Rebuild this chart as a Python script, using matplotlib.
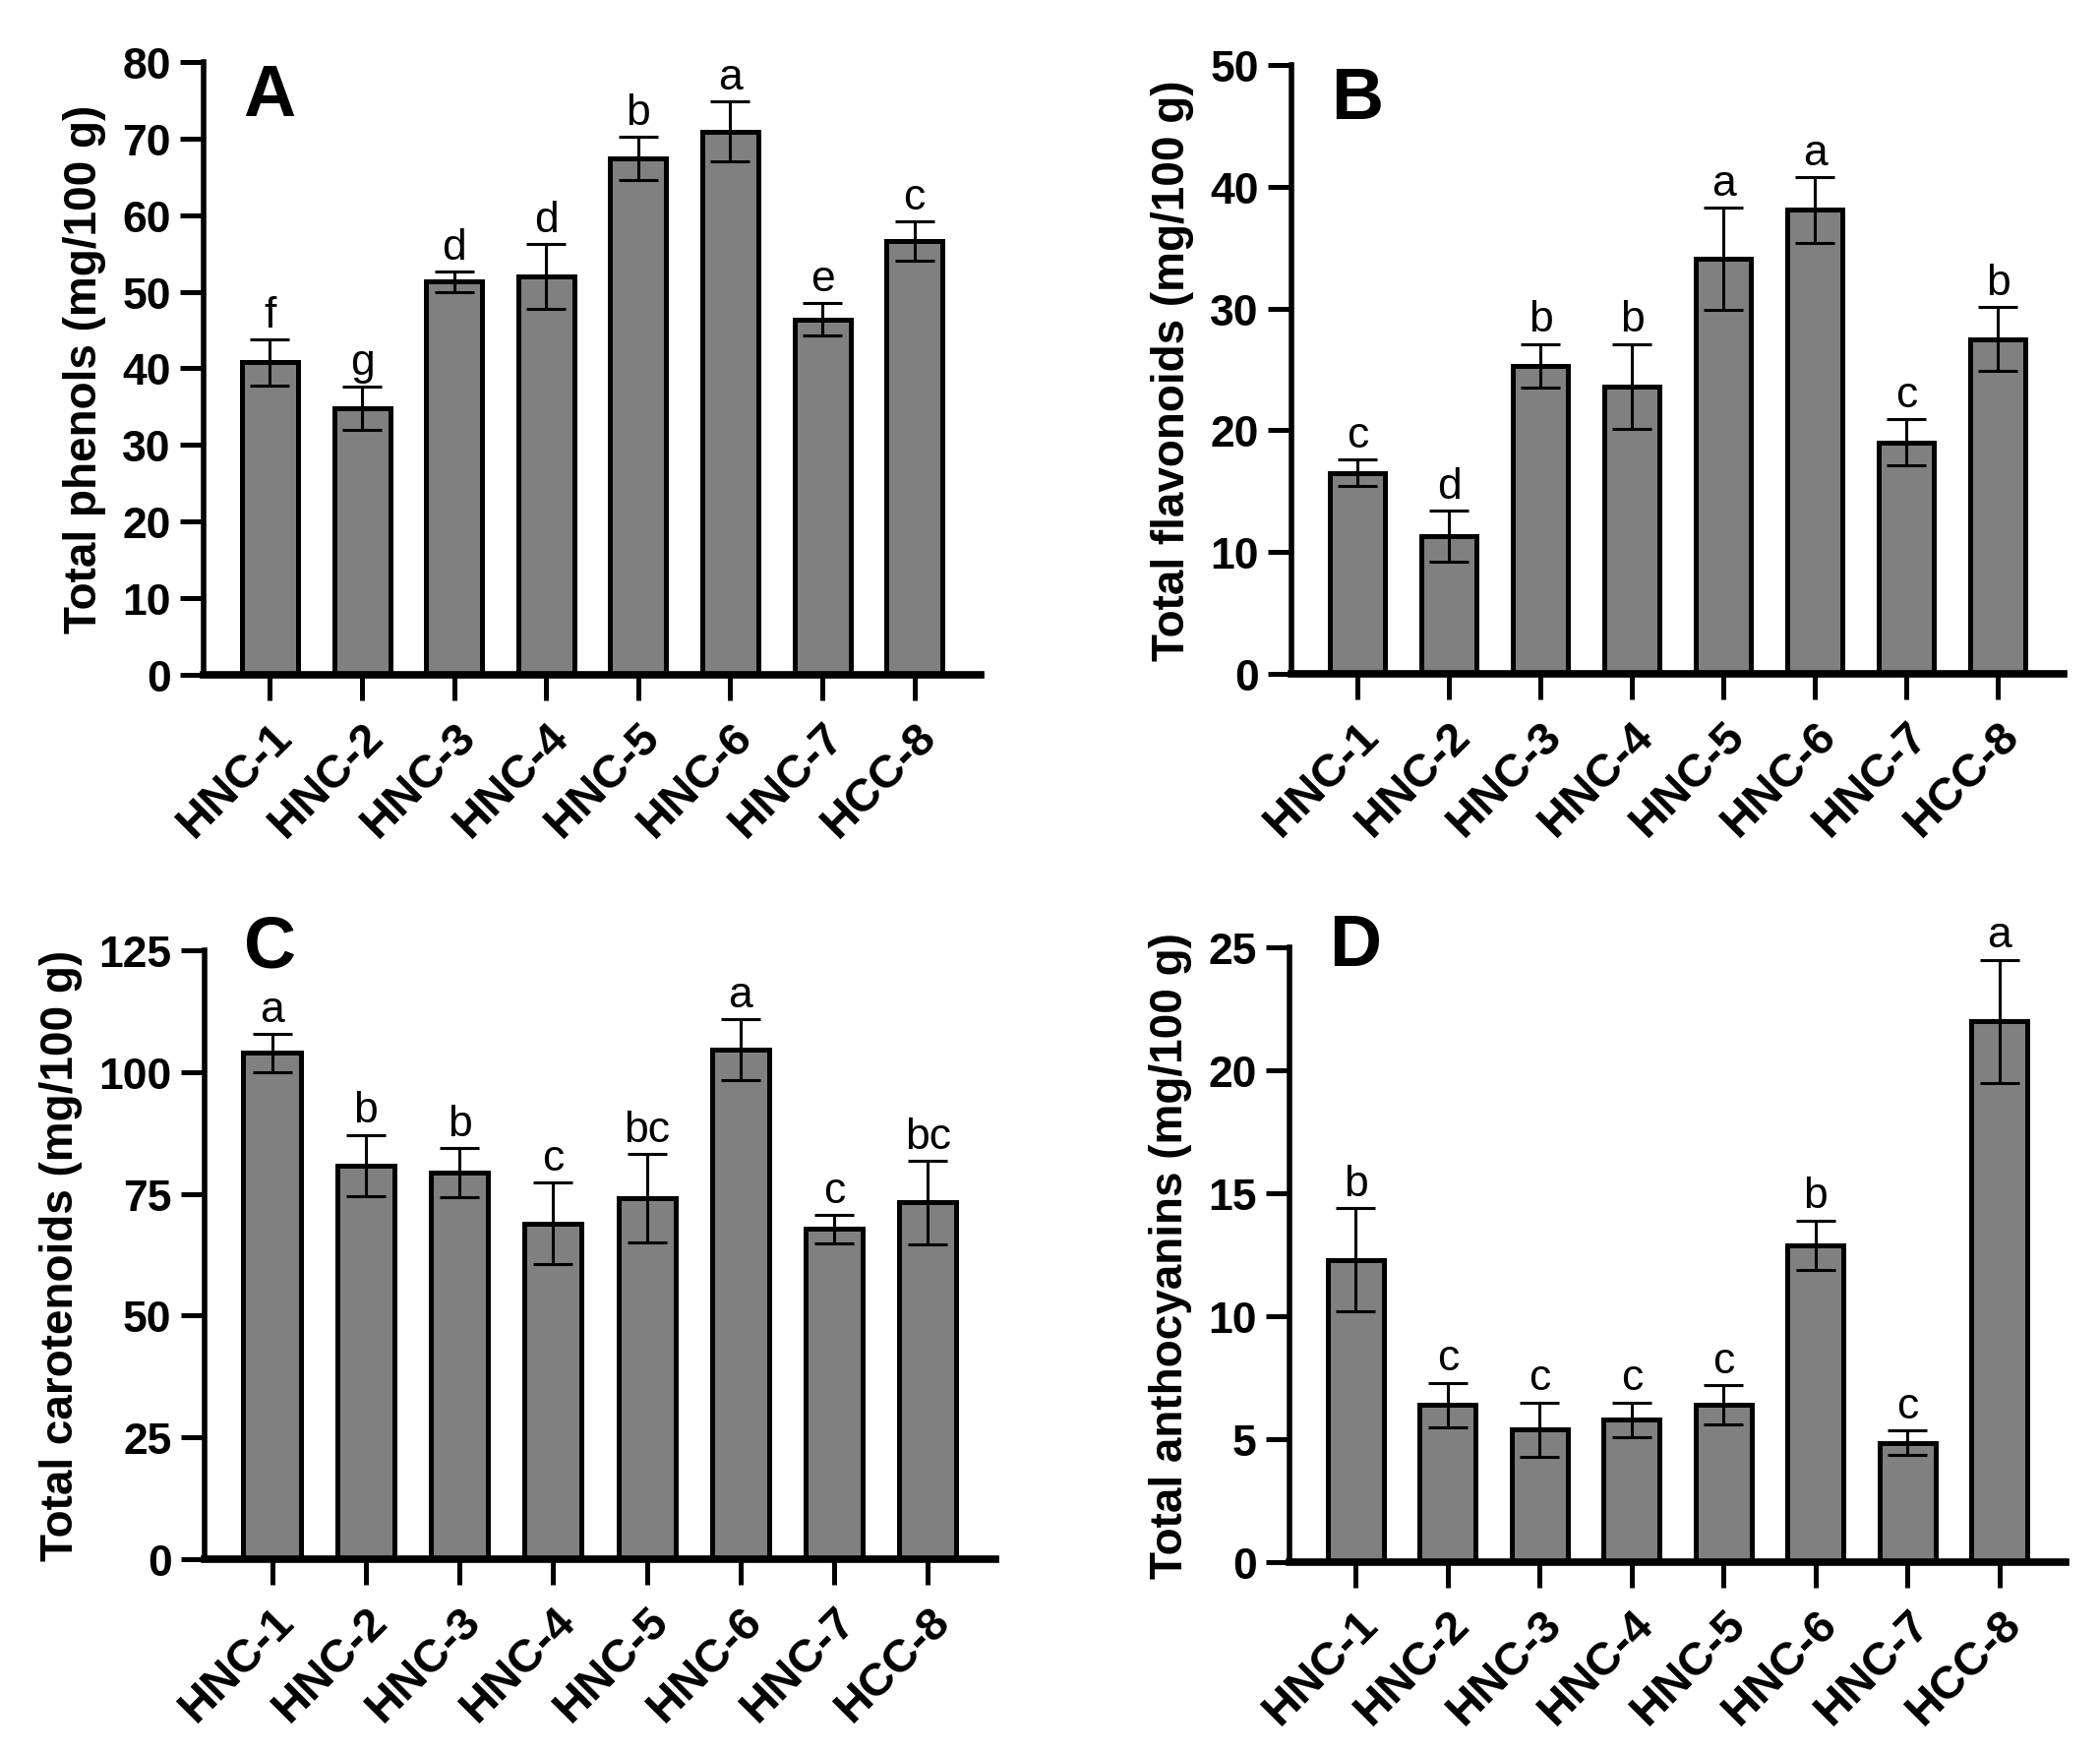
import matplotlib
matplotlib.use("Agg")
import matplotlib.pyplot as plt
import matplotlib.transforms as mtransforms
import numpy as np

plt.rcParams['font.family'] = ['Liberation Sans', 'DejaVu Sans']

categories = ["HNC-1", "HNC-2", "HNC-3", "HNC-4", "HNC-5", "HNC-6", "HNC-7", "HCC-8"]

phenols = [40.8, 34.8, 51.3, 52.0, 67.4, 70.9, 46.4, 56.6]
phenols_err = [3.0, 2.8, 1.3, 4.2, 2.8, 3.9, 2.1, 2.6]
phenols_letters = ["f", "g", "d", "d", "b", "a", "e", "c"]

flavonoids = [16.5, 11.3, 25.3, 23.6, 34.1, 38.1, 19.0, 27.5]
flavonoids_err = [1.1, 2.1, 1.8, 3.5, 4.2, 2.7, 1.9, 2.6]
flavonoids_letters = ["c", "d", "b", "b", "a", "a", "c", "b"]

carotenoids = [103.9, 80.8, 79.3, 68.9, 74.1, 104.6, 67.8, 73.2]
carotenoids_err = [3.9, 6.3, 5.0, 8.4, 9.0, 6.3, 2.9, 8.5]
carotenoids_letters = ["a", "b", "b", "c", "bc", "a", "c", "bc"]

anthocyanins = [12.3, 6.4, 5.4, 5.8, 6.4, 12.9, 4.85, 22.0]
anthocyanins_err = [2.1, 0.9, 1.1, 0.7, 0.8, 1.0, 0.5, 2.5]
anthocyanins_letters = ["b", "c", "c", "c", "c", "b", "c", "a"]

W, H = 2135, 1781
fig = plt.figure(figsize=(W / 100, H / 100), dpi=100)

panels = [
    ("A", phenols, phenols_err, phenols_letters, "Total phenols (mg/100 g)", 80, 10,
     [0.0970, 0.6143, 0.3700, 0.3498], 0),
    ("B", flavonoids, flavonoids_err, flavonoids_letters, "Total flavonoids (mg/100 g)", 50, 10,
     [0.6150, 0.6148, 0.3677, 0.3476], 0),
    ("C", carotenoids, carotenoids_err, carotenoids_letters, "Total carotenoids (mg/100 g)", 125, 25,
     [0.0974, 0.1095, 0.3766, 0.3476], 27),
    ("D", anthocyanins, anthocyanins_err, anthocyanins_letters, "Total anthocyanins (mg/100 g)", 25, 5,
     [0.6141, 0.1078, 0.3696, 0.3509], 26),
]

shift = mtransforms.ScaledTranslation(9 / 100, 0, fig.dpi_scale_trans)

for letter, vals, errs, sig, ylabel, ymax, ystep, rect, ly in panels:
    ax = fig.add_axes(rect)
    x = np.arange(len(categories))
    ax.bar(x, vals, width=0.61, color="#808080", edgecolor="black", linewidth=3.6, zorder=2)
    ax.errorbar(x, vals, yerr=errs, fmt="none", ecolor="black", elinewidth=2.2,
                capsize=14.5, capthick=2.2, zorder=3)
    for xi, v, e, s in zip(x, vals, errs, sig):
        ax.annotate(s, (xi, v + e), xytext=(0, 3), textcoords="offset points",
                    ha="center", va="bottom", fontsize=32, clip_on=False)
    ax.set_xlim(-0.72, 7.72)
    ax.set_ylim(0, ymax)
    ax.set_yticks(np.arange(0, ymax + 0.1, ystep))
    ax.set_xticks(x)
    ax.set_xticklabels(categories, rotation=45, ha="right", va="top", rotation_mode="anchor",
                       fontsize=34, fontweight="bold")
    for lab in ax.get_xticklabels():
        lab.set_transform(lab.get_transform() + shift)
    for lab in ax.get_yticklabels():
        lab.set_fontsize(32)
        lab.set_fontweight("bold")
    ax.spines["top"].set_visible(False)
    ax.spines["right"].set_visible(False)
    ax.spines["left"].set_linewidth(4.0)
    ax.spines["bottom"].set_linewidth(5.5)
    ax.tick_params(axis="x", length=19, width=3.6, pad=10)
    ax.tick_params(axis="y", length=17, width=3.6, pad=7)
    ax.set_ylabel(ylabel, fontsize=33, fontweight="bold", labelpad=12)
    ax.annotate(letter, (0, 1), xycoords="axes fraction", xytext=(29, ly),
                textcoords="offset points", fontsize=53, fontweight="bold",
                ha="left", va="top")

fig.savefig("out.png", dpi=100)
